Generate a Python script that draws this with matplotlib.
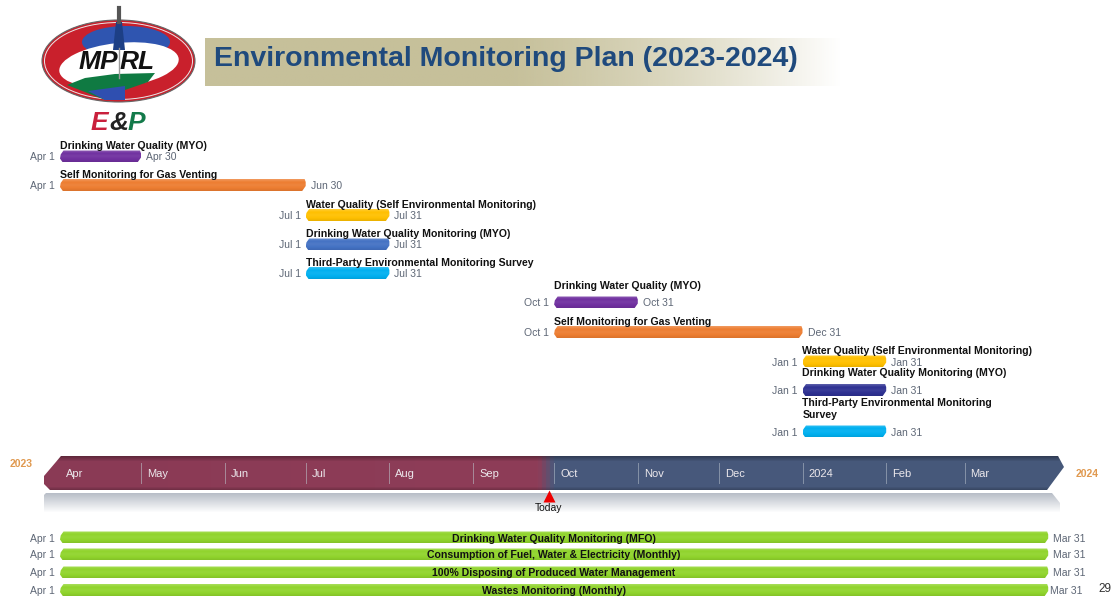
import numpy as np
import matplotlib
matplotlib.use('Agg')
import matplotlib.pyplot as plt
import matplotlib.dates as mdates
from matplotlib.colors import LinearSegmentedColormap
from matplotlib.patches import Ellipse, Polygon
from datetime import date, timedelta

plt.rcParams['font.family'] = ['Liberation Sans', 'DejaVu Sans']

title = 'Environmental Monitoring Plan (2023-2024)'

# milestones above the band
task_names = ['Drinking Water Quality (MYO)', 'Self Monitoring for Gas Venting',
              'Water Quality (Self Environmental Monitoring)', 'Drinking Water Quality Monitoring (MYO)',
              'Third-Party Environmental Monitoring Survey', 'Drinking Water Quality (MYO)',
              'Self Monitoring for Gas Venting', 'Water Quality (Self Environmental Monitoring)',
              'Drinking Water Quality Monitoring (MYO)', 'Third-Party Environmental Monitoring\nSurvey']
task_start = [date(2023, 4, 1), date(2023, 4, 1), date(2023, 7, 1), date(2023, 7, 1), date(2023, 7, 1),
              date(2023, 10, 1), date(2023, 10, 1), date(2024, 1, 1), date(2024, 1, 1), date(2024, 1, 1)]
task_end = [date(2023, 4, 30), date(2023, 6, 30), date(2023, 7, 31), date(2023, 7, 31), date(2023, 7, 31),
            date(2023, 10, 31), date(2023, 12, 31), date(2024, 1, 31), date(2024, 1, 31), date(2024, 1, 31)]
task_colors = ['#7030a0', '#ed7d31', '#ffc000', '#4472c4', '#00b0f0',
               '#7030a0', '#ed7d31', '#ffc000', '#2e3192', '#00b0f0']

# yearly bars under the band
year_names = ['Drinking Water Quality Monitoring (MFO)', 'Consumption of Fuel, Water & Electricity (Monthly)',
              '100% Disposing of Produced Water Management', 'Wastes Monitoring (Monthly)']
year_start = [date(2023, 4, 1)] * 4
year_end = [date(2024, 3, 31)] * 4

month_labels = ['Apr', 'May', 'Jun', 'Jul', 'Aug', 'Sep', 'Oct', 'Nov', 'Dec', '2024', 'Feb', 'Mar']
month_starts = [date(2023, m, 1) for m in range(4, 13)] + [date(2024, m, 1) for m in range(1, 4)]
today = date(2023, 9, 29)

# layout, in picture pixels from the top
task_y = [156.5, 185, 215, 244.5, 273, 302.5, 332, 361.5, 390, 431.5]
task_label_y = [146, 175.5, 204.5, 234, 263, 286, 322, 351, 373.5, 409.5]
year_y = [537.5, 554.5, 572.5, 590]
year_end_dx = [5, 5, 5, 2]
W, H = 1113, 596
PX_PER_DAY = 2.7


def fmt(d):
    return d.strftime('%b ') + str(d.day)


fig = plt.figure(figsize=(W / 100, H / 100), dpi=100)
deco = fig.add_axes([0, 0, 1, 1], zorder=1)
deco.axis('off')

ax = fig.add_axes([0, 0, 1, 1], zorder=2)
ax.patch.set_alpha(0)
x0 = mdates.date2num(date(2023, 4, 1))
xlim = (x0 - 60 / PX_PER_DAY, x0 + (W - 60) / PX_PER_DAY)
ax.axis('off')


def shade(color, f):
    c = np.array(matplotlib.colors.to_rgb(color))
    if f >= 0:
        return tuple(c + (1 - c) * f)
    return tuple(c * (1 + f))


def draw_bar(ax, start, end, yc, color, h=12):
    a = mdates.date2num(start)
    b = mdates.date2num(end + timedelta(days=1))
    c = 3.5 / PX_PER_DAY
    top, bot = yc - h / 2, yc + h / 2
    pts = [(a + c, top), (b - 0.3 * c, top), (b, yc - 3), (b, yc + 1), (b - c, bot), (a + c * 0.8, bot),
           (a, yc + 2), (a + 0.2 * c, yc - 2)]
    cm = LinearSegmentedColormap.from_list('b', [shade(color, 0.22), color, shade(color, 0.06), color,
                                                 shade(color, -0.08)])
    grad = np.linspace(0, 1, 32).reshape(-1, 1)
    im = ax.imshow(grad, cmap=cm, extent=(a, b, bot, top), aspect='auto', zorder=2)
    poly = Polygon(pts, closed=True, fc='none', ec='none', transform=ax.transData)
    ax.add_patch(poly)
    im.set_clip_path(poly)


# logo
deco.add_patch(Ellipse((118.5, 61), 153, 82, fc='#c9202c', ec='#666666', lw=0.8))
inner = Ellipse((118.5, 61), 148, 77, fc='none', ec='#e8e8e8', lw=0.7, zorder=1.5)
deco.add_patch(inner)
cap = Ellipse((126, 42), 88, 32, fc='#2f55b0', ec='none', zorder=1.6)
deco.add_patch(cap)
cap.set_clip_path(inner)
deco.add_patch(Ellipse((119, 65), 120, 44, fc='white', ec='none', angle=-6, zorder=2))
deco.add_patch(Polygon([(67, 85), (85, 78), (115, 74), (155, 73), (148, 82), (125, 90), (125, 100), (105, 100),
                        (85, 92)], fc='#0f7a42', ec='none', zorder=3))
deco.add_patch(Polygon([(88, 91), (125, 86), (125, 100), (105, 100)], fc='#2f4fb0', ec='none', zorder=4))
deco.add_patch(Polygon([(113, 50), (116, 22), (122, 22), (125, 50)], fc='#1d3f86', ec='none', zorder=3))
deco.plot([119, 119], [8, 22], color='#555555', lw=3, zorder=4)
deco.plot([119, 119], [48, 78], color='#999999', lw=1, zorder=6)
deco.text(118, 62, 'MP', color='#111111', fontsize=19, fontweight='bold', style='italic',
          ha='right', va='center', zorder=5)
deco.text(120, 62, 'RL', color='#111111', fontsize=19, fontweight='bold', style='italic',
          ha='left', va='center', zorder=5)
deco.text(91, 123, 'E', color='#c9203c', fontsize=19, fontweight='bold', style='italic', ha='left', va='center')
deco.text(109, 123, '&', color='#222222', fontsize=19, fontweight='bold', style='italic', ha='left', va='center')
deco.text(128, 123, 'P', color='#137a4a', fontsize=19, fontweight='bold', style='italic', ha='left', va='center')

# title banner, fades out to the right
banner = np.ones((2, 256, 4))
banner[..., :3] = matplotlib.colors.to_rgb('#c6c09a')
banner[..., 3] = np.clip(1.25 - 1.25 * np.linspace(0, 1, 256) ** 2.2, 0, 1)
deco.imshow(banner, extent=(205, 842, 86, 38), aspect='auto', zorder=1)
deco.text(214, 59.5, title, color='#1f4a7d', fontsize=20.5, fontweight='bold', ha='left', va='center', zorder=3)

# band of months
band = Polygon([(61, 456), (1058, 456), (1064, 467), (1047, 490), (50, 490), (44, 484), (44, 476)],
               closed=True, fc='none', ec='none')
deco.add_patch(band)
band_cm = LinearSegmentedColormap.from_list('band', [(0, '#8a3a55'), (0.485, '#8e3d58'), (0.5, '#48597c'),
                                                     (1, '#46587a')])
g = np.linspace(0, 1, 512).reshape(1, -1)
im = deco.imshow(g, cmap=band_cm, extent=(44, 1064, 490, 456), aspect='auto', zorder=2)
im.set_clip_path(band)
edge = np.zeros((34, 1, 4))
edge[..., 3] = np.concatenate([np.linspace(0.3, 0, 6), np.zeros(24), np.linspace(0, 0.18, 4)]).reshape(-1, 1)
im2 = deco.imshow(edge, extent=(44, 1064, 490, 456), aspect='auto', zorder=3)
im2.set_clip_path(band)

# shadow under the band
sh = np.zeros((20, 1, 4))
sh[..., :3] = matplotlib.colors.to_rgb('#9aa2b0')
sh[..., 3] = np.linspace(0.7, 0, 20).reshape(-1, 1)
shadow = Polygon([(44, 495), (46, 493), (1052, 493), (1060, 503), (1060, 513), (44, 513)], closed=True,
                 fc='none', ec='none')
deco.add_patch(shadow)
im3 = deco.imshow(sh, extent=(44, 1060, 513, 493), aspect='auto', zorder=1)
im3.set_clip_path(shadow)
deco.set_xlim(0, W)
deco.set_ylim(H, 0)

# months
for lab, d in zip(month_labels, month_starts):
    n = mdates.date2num(d)
    if d != month_starts[0]:
        ax.plot([n, n], [463, 483], color='#a88a9a' if d < today else '#8592a8', lw=0.7, zorder=3)
    ax.annotate(lab, (n, 474), xytext=(6, 0), textcoords='offset pixels', color='#ece8ec', fontsize=8,
                ha='left', va='center', zorder=4)
deco.text(21, 464, '2023', color='#e0994f', fontsize=7.5, fontweight='bold', ha='center', va='center')
deco.text(1087, 474, '2024', color='#e0994f', fontsize=7.5, fontweight='bold', ha='center', va='center')

# today marker
t = mdates.date2num(today)
ax.plot([t], [496], marker='^', ms=9, color='#ee0000', mec='none', zorder=4)
ax.text(t, 508, 'Today', fontsize=7.5, color='#111111', ha='center', va='center', zorder=4)

# tasks
for name, s, e, col, y, ly in zip(task_names, task_start, task_end, task_colors, task_y, task_label_y):
    draw_bar(ax, s, e, y, col)
    ax.text(mdates.date2num(s), ly, name, fontsize=7.6, fontweight='bold', color='#111111', ha='left',
            va='center', zorder=3, linespacing=1.25)
    ax.annotate(fmt(s), (mdates.date2num(s), y + 1), xytext=(-5, 0), textcoords='offset pixels', fontsize=7.5,
                color='#5d6675', ha='right', va='center')
    ax.annotate(fmt(e), (mdates.date2num(e + timedelta(days=1)), y + 1), xytext=(5, 0), textcoords='offset pixels',
                fontsize=7.5, color='#5d6675', ha='left', va='center')

for name, s, e, y, dx in zip(year_names, year_start, year_end, year_y, year_end_dx):
    draw_bar(ax, s, e, y, '#90d42c')
    mid = (mdates.date2num(s) + mdates.date2num(e + timedelta(days=1))) / 2
    ax.text(mid, y + 1, name, fontsize=7.6, fontweight='bold', color='#111111', ha='center', va='center', zorder=3)
    ax.annotate(fmt(s), (mdates.date2num(s), y + 1), xytext=(-5, 0), textcoords='offset pixels', fontsize=7.5,
                color='#5d6675', ha='right', va='center')
    ax.annotate(fmt(e), (mdates.date2num(e + timedelta(days=1)), y + 1), xytext=(dx, 0), textcoords='offset pixels',
                fontsize=7.5, color='#5d6675', ha='left', va='center')

deco.text(1105, 589, '29', fontsize=8.5, color='#333333', ha='center', va='center')

ax.set_xlim(*xlim)
ax.set_ylim(H, 0)
fig.savefig('out.png', dpi=100, facecolor='white')
